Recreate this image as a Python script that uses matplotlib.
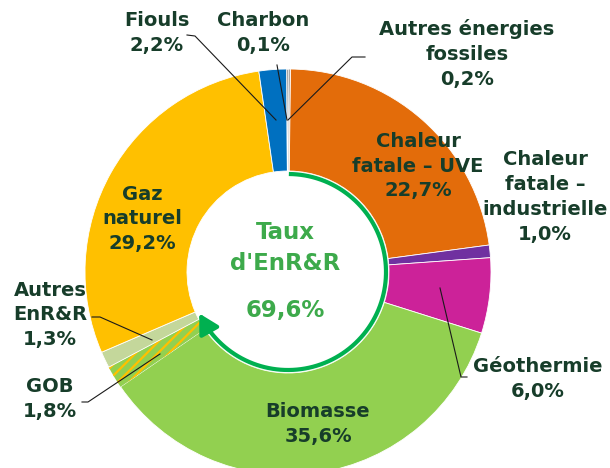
import numpy as np
import matplotlib.pyplot as plt

W, H = 610, 468

# données (ordre horaire depuis le haut)
labels = ['Autres énergies\nfossiles', 'Chaleur\nfatale – UVE', 'Chaleur\nfatale –\nindustrielle',
          'Géothermie', 'Biomasse', 'GOB', 'Autres\nEnR&R', 'Gaz\nnaturel', 'Fiouls', 'Charbon']
values = [0.2, 22.7, 1.0, 6.0, 35.6, 1.8, 1.3, 29.2, 2.2, 0.1]
colors = ['#A6A6A6', '#E36C0A', '#7030A0', '#CC2299', '#92D050', '#92D050',
          '#C4D79B', '#FFC000', '#0070C0', '#262626']
taux_enrr = 69.6

# position des étiquettes en pixels de l'image (x, y depuis le haut)
label_pos = [(467, 54), (418, 166), (545, 197), (538, 379), (318, 424),
             (50, 399), (50, 315), (142, 219), (157, 33), (263, 33)]
# lignes de rappel (pixels)
leaders = {
    'Autres énergies\nfossiles': [(365, 57), (352, 57), (288, 120)],
    'Charbon': [(277, 65), (287, 120)],
    'Fiouls': [(187, 35), (195, 36), (276, 120)],
    'Géothermie': [(440, 288), (461, 377), (467, 377)],
    'Autres\nEnR&R': [(92, 317), (100, 317), (152, 340)],
    'GOB': [(82, 402), (88, 402), (160, 354)],
}

txt_color = '#173D2A'
cx, cy, R, r_in = 288, 272, 203, 101


def P(x, y):
    return x, H - y


plt.rcParams['font.family'] = ['DejaVu Sans']
plt.rcParams['hatch.linewidth'] = 1.6

fig = plt.figure(figsize=(W / 100, H / 100), dpi=100)
ax = fig.add_axes([0, 0, 1, 1])

wedges, _ = ax.pie(values, colors=colors, startangle=90, counterclock=False,
                   center=P(cx, cy), radius=R,
                   wedgeprops=dict(width=R - r_in, edgecolor='white', linewidth=0.6))
gob = wedges[labels.index('GOB')]
gob.set_hatch('///')
gob.set_edgecolor('#FFC000')
gob.set_linewidth(0)

ax.set_xlim(0, W)
ax.set_ylim(0, H)
ax.set_aspect('equal')
ax.axis('off')

# étiquettes
for lab, v, (x, y) in zip(labels, values, label_pos):
    s = lab + '\n' + f'{v:.1f}'.replace('.', ',') + '%'
    ax.text(*P(x, y), s, ha='center', va='center', fontsize=14, fontweight='bold',
            color=txt_color, linespacing=1.38)

for lab, pts in leaders.items():
    xs = [p[0] for p in pts]
    ys = [H - p[1] for p in pts]
    ax.plot(xs, ys, color='#1A1A1A', lw=0.8)

# flèche verte du taux d'EnR&R
rr = 98
th = np.radians(np.linspace(0.5, 238, 200))
ax.plot(cx + rr * np.sin(th), H - (cy - rr * np.cos(th)), color='#00B050', lw=3,
        solid_capstyle='butt')
t1, t2 = np.radians(236), np.radians(245)
ax.annotate('', xy=(cx + rr * np.sin(t2), H - (cy - rr * np.cos(t2))),
            xytext=(cx + rr * np.sin(t1), H - (cy - rr * np.cos(t1))),
            arrowprops=dict(arrowstyle='-|>,head_length=0.9,head_width=0.5',
                            color='#00B050', lw=3, shrinkA=0, shrinkB=0, mutation_scale=13))

ax.text(*P(285, 248), "Taux\nd'EnR&R", ha='center', va='center', fontsize=16.5,
        fontweight='bold', color='#3DAA4B', linespacing=1.45)
ax.text(*P(285, 310), f'{taux_enrr:.1f}'.replace('.', ',') + '%', ha='center',
        va='center', fontsize=16.5, fontweight='bold', color='#3DAA4B')

fig.savefig('out.png', dpi=100)
